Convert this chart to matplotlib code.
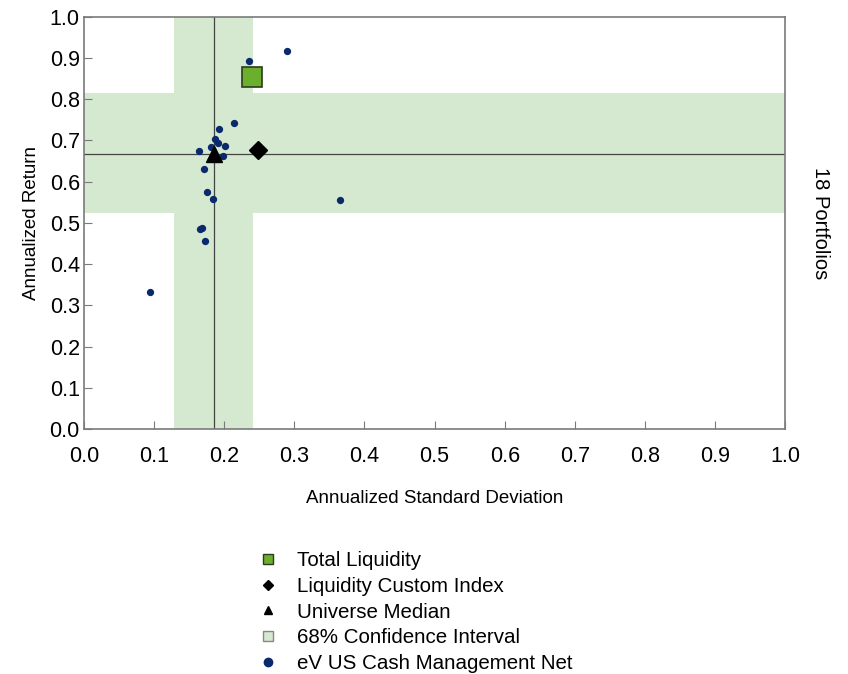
import matplotlib.pyplot as plt
from matplotlib.lines import Line2D

plt.rcParams['font.family'] = ['Liberation Sans', 'DejaVu Sans']

# universe portfolios (std dev, return)
univ_x = [0.214, 0.193, 0.187, 0.191, 0.181, 0.201, 0.164, 0.198, 0.171,
          0.176, 0.184, 0.168, 0.165, 0.172, 0.235, 0.290, 0.365, 0.094]
univ_y = [0.742, 0.729, 0.703, 0.693, 0.684, 0.687, 0.675, 0.663, 0.631,
          0.575, 0.558, 0.487, 0.485, 0.457, 0.892, 0.918, 0.556, 0.333]

total_liq = (0.240, 0.855)
custom_idx = (0.248, 0.676)
median = (0.185, 0.668)

ci_x = (0.128, 0.241)
ci_y = (0.524, 0.816)

ticks = [0.0, 0.1, 0.2, 0.3, 0.4, 0.5, 0.6, 0.7, 0.8, 0.9, 1.0]

band = '#d5e8d0'
navy = '#0b2a6b'
grey = '#7a7a7a'

fig = plt.figure(figsize=(8.48, 6.74), dpi=100)
ax = fig.add_axes([0.099, 0.3635, 0.827, 0.6115])

ax.axvspan(ci_x[0], ci_x[1], color=band, lw=0, zorder=0)
ax.axhspan(ci_y[0], ci_y[1], color=band, lw=0, zorder=0)
ax.axvline(median[0], color='#444444', lw=0.9, zorder=1)
ax.axhline(median[1], color='#444444', lw=0.9, zorder=1)

ax.scatter(univ_x, univ_y, s=18, color=navy, zorder=3)
ax.plot(*total_liq, marker='s', ms=14, mfc='#6ab02c', mec='#2d3a1e', mew=1.2, zorder=4)
ax.plot(*custom_idx, marker='D', ms=9, color='black', zorder=4)
ax.plot(*median, marker='^', ms=12, color='black', zorder=4)

ax.set_xlim(0, 1)
ax.set_ylim(0, 1)
ax.set_xticks(ticks)
ax.set_yticks(ticks)
ax.set_xticklabels([f'{t:.1f}' for t in ticks], fontsize=15.5)
ax.set_yticklabels([f'{t:.1f}' for t in ticks], fontsize=15.5)
ax.tick_params(direction='in', length=6, color=grey)
ax.tick_params(axis='x', pad=12)
ax.tick_params(axis='y', pad=3)
for s in ax.spines.values():
    s.set_color(grey)
    s.set_linewidth(1.2)

ax.set_xlabel('Annualized Standard Deviation', fontsize=13.5, labelpad=17)
ax.set_ylabel('Annualized Return', fontsize=13.5, labelpad=7)
fig.text(0.967, 0.669, '18 Portfolios', rotation=-90, fontsize=14.5,
         ha='center', va='center')

handles = [
    Line2D([], [], ls='', marker='s', ms=7, mfc='#6ab02c', mec='#2d3a1e'),
    Line2D([], [], ls='', marker='D', ms=5, color='black'),
    Line2D([], [], ls='', marker='^', ms=6, color='black'),
    Line2D([], [], ls='', marker='s', ms=7, mfc=band, mec='#888888'),
    Line2D([], [], ls='', marker='o', ms=6, color=navy),
]
labels = ['Total Liquidity', 'Liquidity Custom Index', 'Universe Median',
          '68% Confidence Interval', 'eV US Cash Management Net']
fig.legend(handles, labels, loc='upper left', bbox_to_anchor=(0.292, 0.194),
           frameon=False, fontsize=14.8, handletextpad=0.8, labelspacing=0.32,
           handlelength=1.2, borderaxespad=0)

fig.savefig('out.png', dpi=100)
